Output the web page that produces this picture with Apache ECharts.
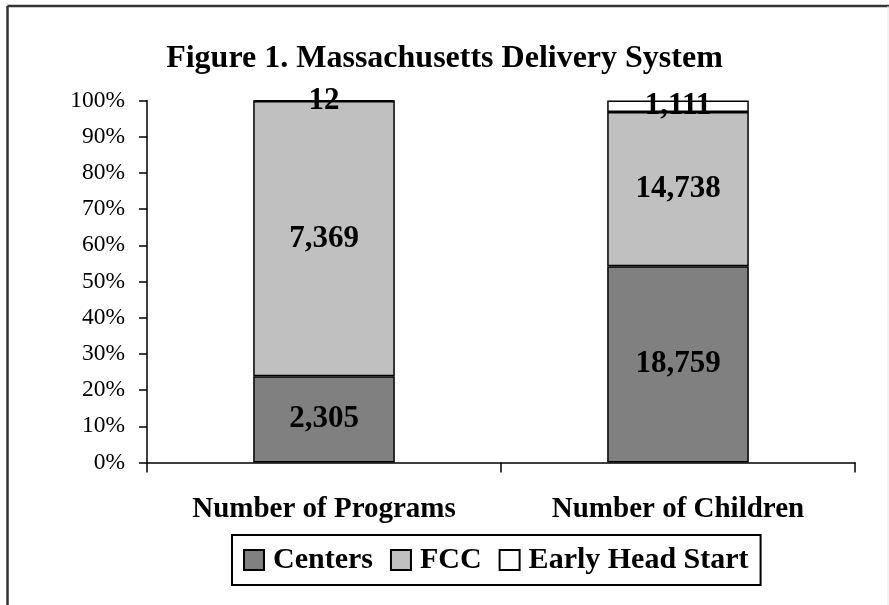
<!DOCTYPE html>
<html>
<head>
<meta charset="utf-8">
<script src="https://cdn.jsdelivr.net/npm/echarts@6/dist/echarts.min.js"></script>
<style>
  html, body { margin: 0; padding: 0; background: #fff; }
  #chart { width: 889px; height: 605px; }
</style>
</head>
<body>
<div id="chart"></div>
<script>
var categories = ["Number of Programs", "Number of Children"];
var centers = [2305, 18759];
var fcc = [7369, 14738];
var earlyHeadStart = [12, 1111];
var yTicks = ["0%", "10%", "20%", "30%", "40%", "50%", "60%", "70%", "80%", "90%", "100%"];

// share of each column
var totals = categories.map(function (c, i) {
  return centers[i] + fcc[i] + earlyHeadStart[i];
});
function toShare(arr) {
  return arr.map(function (v, i) {
    return { value: v / totals[i] * 100, raw: v };
  });
}
function fmt(n) {
  return n.toString().replace(/\B(?=(\d{3})+(?!\d))/g, ",");
}

var serif = "'Liberation Serif', 'Times New Roman', serif";
var chart = echarts.init(document.getElementById("chart"));

var labelStyle = {
  show: true,
  position: "inside",
  color: "#000",
  fontFamily: serif,
  fontWeight: "bold",
  fontSize: 31,
  formatter: function (p) { return fmt(p.data.raw); }
};

var option = {
  animation: false,
  backgroundColor: "#fff",
  title: {
    text: "Figure 1. Massachusetts Delivery System",
    left: "center",
    top: 38,
    textStyle: {
      fontFamily: serif,
      fontWeight: "bold",
      fontSize: 32,
      color: "#000"
    }
  },
  legend: {
    data: ["Centers", "FCC", "Early Head Start"],
    left: 232,
    top: 535,
    orient: "horizontal",
    icon: "rect",
    itemWidth: 20,
    itemHeight: 20,
    itemGap: 17,
    padding: [10, 12, 10, 11],
    borderColor: "#000",
    borderWidth: 2,
    selectedMode: false,
    textStyle: {
      fontFamily: serif,
      fontWeight: "bold",
      fontSize: 30,
      color: "#000",
      padding: [0, 0, 0, 4]
    }
  },
  grid: {
    left: 147,
    right: 34,
    top: 100.5,
    bottom: 142.5,
    containLabel: false
  },
  xAxis: {
    type: "category",
    data: categories,
    axisLine: { lineStyle: { color: "#000", width: 1.5 } },
    axisTick: { show: true, length: 10, lineStyle: { color: "#000", width: 1.5 } },
    axisLabel: {
      margin: 33,
      color: "#000",
      fontFamily: serif,
      fontWeight: "bold",
      fontSize: 29
    },
    splitLine: { show: false }
  },
  yAxis: {
    type: "value",
    min: 0,
    max: 100,
    interval: 10,
    axisLine: { show: true, lineStyle: { color: "#000", width: 1.5 } },
    axisTick: { show: true, length: 8, lineStyle: { color: "#000", width: 1.5 } },
    axisLabel: {
      margin: 22,
      color: "#000",
      fontFamily: serif,
      fontSize: 23.5,
      formatter: function (v) { return yTicks[Math.round(v / 10)]; }
    },
    splitLine: { show: false }
  },
  series: [
    {
      name: "Centers",
      type: "bar",
      stack: "total",
      barWidth: "40%",
      itemStyle: { color: "#808080", borderColor: "#000", borderWidth: 1.5 },
      label: labelStyle,
      data: toShare(centers)
    },
    {
      name: "FCC",
      type: "bar",
      stack: "total",
      barWidth: "40%",
      itemStyle: { color: "#c0c0c0", borderColor: "#000", borderWidth: 1.5 },
      label: labelStyle,
      data: toShare(fcc)
    },
    {
      name: "Early Head Start",
      type: "bar",
      stack: "total",
      barWidth: "40%",
      itemStyle: { color: "#ffffff", borderColor: "#000", borderWidth: 1.5 },
      label: labelStyle,
      data: toShare(earlyHeadStart)
    }
  ],
  graphic: [
    {
      type: "line",
      shape: { x1: 7.5, y1: 6, x2: 889, y2: 6 },
      style: { stroke: "#333", lineWidth: 2.5 }
    },
    {
      type: "line",
      shape: { x1: 7.5, y1: 6, x2: 7.5, y2: 605 },
      style: { stroke: "#333", lineWidth: 2.5 }
    },
    {
      type: "line",
      shape: { x1: 888, y1: 6, x2: 888, y2: 605 },
      style: { stroke: "#e8e8e8", lineWidth: 1 }
    }
  ]
};

chart.setOption(option);
</script>
</body>
</html>
